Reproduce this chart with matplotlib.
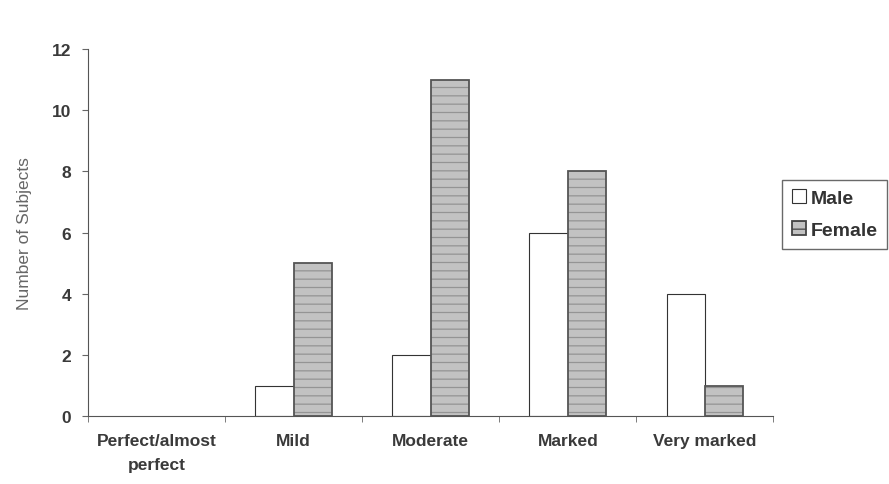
import matplotlib.pyplot as plt
from matplotlib.patches import Patch
import numpy as np

categories = ["Perfect/almost\nperfect", "Mild", "Moderate", "Marked", "Very marked"]
male = [0, 1, 2, 6, 4]
female = [0, 5, 11, 8, 1]

plt.rcParams['font.family'] = ['Liberation Sans', 'DejaVu Sans']
plt.rcParams['hatch.linewidth'] = 0.9

fig = plt.figure(figsize=(8.89, 4.85), dpi=100)
ax = fig.add_axes([0.099, 0.140, 0.771, 0.757])

x = np.arange(len(categories))
w = 0.28
male_lw = [0.8 if v > 0 else 0 for v in male]
female_lw = [1.3 if v > 0 else 0 for v in female]
ax.bar(x - w / 2, male, w, facecolor='white', edgecolor='#333333', linewidth=male_lw)
# hatched fill, then a dark outline on top
ax.bar(x + w / 2, female, w, facecolor='#c2c2c2', edgecolor='#949494', linewidth=0, hatch='--')
ax.bar(x + w / 2, female, w, fill=False, edgecolor='#555555', linewidth=female_lw)

ax.set_xlim(-0.5, len(categories) - 0.5)
ax.set_ylim(0, 12)
ax.set_yticks(range(0, 13, 2))
ax.set_xticks(x)
ax.set_xticklabels(categories, fontsize=12.5, fontweight='bold', color='#3a3a3a',
                   linespacing=1.8)
ax.set_xticks(np.arange(-0.5, len(categories)), minor=True)
ax.tick_params(axis='x', which='major', length=0, pad=12)
ax.tick_params(axis='x', which='minor', length=4, color='#666666')
ax.tick_params(axis='y', labelsize=12.5, colors='#3a3a3a', length=4, pad=8)
ax.tick_params(axis='y', color='#666666')
for t in ax.get_yticklabels():
    t.set_fontweight('bold')
ax.set_ylabel("Number of Subjects", fontsize=12.5, color='#666666', labelpad=14)

ax.spines['top'].set_visible(False)
ax.spines['right'].set_visible(False)
ax.spines['left'].set_color('#555555')
ax.spines['bottom'].set_color('#555555')

handles = [Patch(facecolor='white', edgecolor='#333333', linewidth=0.8, label='Male'),
           Patch(facecolor='#c2c2c2', edgecolor='#444444', linewidth=1.3, hatch='--',
                 label='Female')]
leg = ax.legend(handles=handles, loc='center left', bbox_to_anchor=(1.0, 0.55),
                frameon=True, fancybox=False, edgecolor='#444444',
                prop={'size': 14, 'weight': 'bold'},
                handlelength=0.7, handleheight=0.7, handletextpad=0.25, borderaxespad=0.45,
                borderpad=0.5, labelspacing=0.75)
for t in leg.get_texts():
    t.set_color('#333333')

fig.savefig("out.png", dpi=100)
